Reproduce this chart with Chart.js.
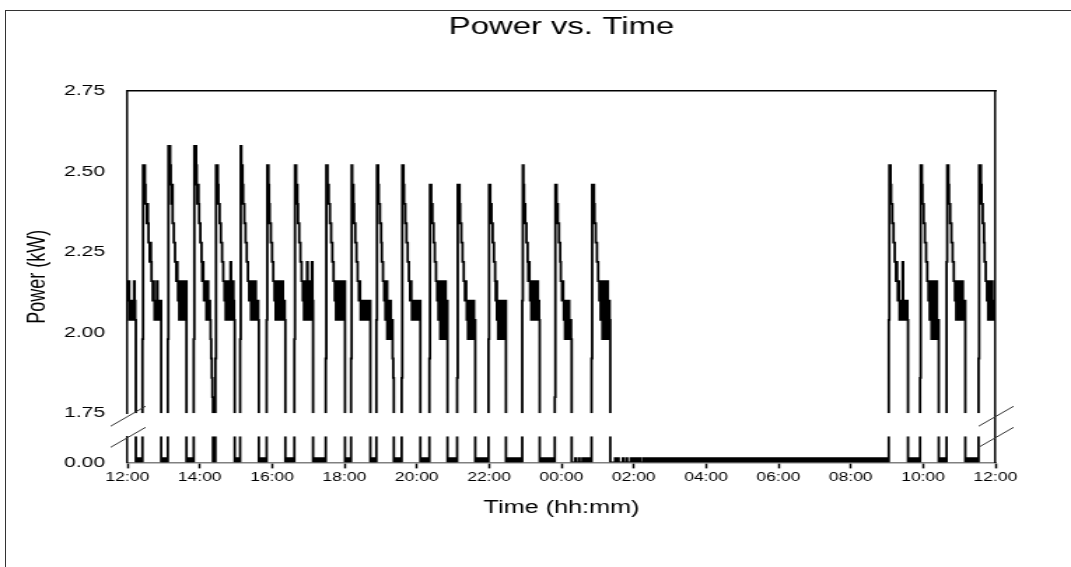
<!DOCTYPE html>
<html>
<head>
<meta charset="utf-8">
<script src="https://cdn.jsdelivr.net/npm/chart.js@4.4.1/dist/chart.umd.min.js"></script>
<style>
  html, body { margin: 0; padding: 0; background: #fff; overflow: hidden; }
  #frame { position: absolute; left: 5px; top: 10px; right: 0; bottom: 0; border-left: 1px solid #333; border-top: 1px solid #333; }
  /* the original figure is a horizontally stretched export */
  #chartPower { position: absolute; left: 0; top: 0; transform: scaleX(1.4); transform-origin: 0 0; }
</style>
</head>
<body>
<div id="frame"></div>
<canvas id="chartPower" width="765" height="567"></canvas>
<script>
'use strict';

// x axis: minutes after 12:00, labelled every two hours
const timeTicks = [0, 120, 240, 360, 480, 600, 720, 840, 960, 1080, 1200, 1320, 1440];
const timeLabels = ['12:00', '14:00', '16:00', '18:00', '20:00', '22:00', '00:00',
    '02:00', '04:00', '06:00', '08:00', '10:00', '12:00'];
const upperTicks = [1.75, 2.00, 2.25, 2.50, 2.75];
const lowerTicks = [0.00, 0.25];

// compressor runs: start minute, then one sample per minute (kW)
const runStart = [0, 25, 67, 110, 146, 187, 231, 277, 329, 371, 413, 455, 501, 547, 599, 655, 709, 770, 1263, 1315, 1359, 1412];
const runKw = [
    [2.16, 2.10, 2.16, 2.04, 2.10, 2.04, 2.10, 2.04, 2.10, 2.04, 2.10, 2.16, 2.10, 2.04],
    [1.98, 2.52, 2.46, 2.52, 2.46, 2.40, 2.40, 2.34, 2.40, 2.34, 2.28, 2.28, 2.22, 2.28, 2.22, 2.16, 2.16, 2.10, 2.16, 2.10, 2.04, 2.10, 2.04, 2.10, 2.16, 2.04, 2.10, 2.04, 2.10, 2.04, 2.10],
    [1.98, 2.58, 2.52, 2.58, 2.52, 2.46, 2.40, 2.46, 2.34, 2.34, 2.28, 2.28, 2.22, 2.22, 2.16, 2.22, 2.16, 2.10, 2.16, 2.04, 2.10, 2.16, 2.04, 2.10, 2.04, 2.10, 2.16, 2.10, 2.04, 2.10, 2.16],
    [1.98, 2.58, 2.52, 2.58, 2.52, 2.46, 2.40, 2.46, 2.40, 2.34, 2.34, 2.28, 2.28, 2.22, 2.16, 2.22, 2.16, 2.10, 2.16, 2.10, 2.16, 2.04, 2.10, 2.16, 2.10, 2.04, 2.10, 2.04, 1.98, 1.92, 1.86, 1.80],
    [1.92, 2.52, 2.46, 2.52, 2.46, 2.40, 2.40, 2.34, 2.34, 2.28, 2.28, 2.22, 2.22, 2.16, 2.16, 2.10, 2.16, 2.04, 2.10, 2.16, 2.04, 2.10, 2.04, 2.16, 2.10, 2.22, 2.04, 2.10, 2.04, 2.16, 2.10, 2.04],
    [1.98, 2.58, 2.52, 2.52, 2.46, 2.40, 2.40, 2.34, 2.34, 2.28, 2.28, 2.22, 2.22, 2.16, 2.16, 2.10, 2.16, 2.10, 2.04, 2.10, 2.16, 2.04, 2.10, 2.04, 2.10, 2.16, 2.04, 2.10, 2.04, 2.10, 2.04],
    [2.04, 2.52, 2.52, 2.46, 2.40, 2.34, 2.34, 2.28, 2.28, 2.22, 2.22, 2.16, 2.16, 2.10, 2.16, 2.04, 2.10, 2.16, 2.04, 2.10, 2.04, 2.16, 2.10, 2.04, 2.10, 2.04, 2.16, 2.10, 2.04, 2.10, 2.04],
    [1.98, 2.52, 2.52, 2.46, 2.46, 2.40, 2.34, 2.34, 2.28, 2.28, 2.22, 2.22, 2.16, 2.16, 2.10, 2.16, 2.04, 2.10, 2.16, 2.04, 2.10, 2.22, 2.04, 2.10, 2.16, 2.04, 2.10, 2.04, 2.16, 2.22, 2.10],
    [1.92, 2.52, 2.52, 2.46, 2.46, 2.40, 2.40, 2.34, 2.34, 2.28, 2.28, 2.22, 2.22, 2.16, 2.16, 2.10, 2.16, 2.04, 2.10, 2.04, 2.16, 2.10, 2.04, 2.10, 2.04, 2.16, 2.04, 2.10, 2.04, 2.10, 2.16, 2.16],
    [1.92, 2.52, 2.46, 2.46, 2.40, 2.34, 2.34, 2.28, 2.28, 2.22, 2.22, 2.16, 2.16, 2.10, 2.16, 2.10, 2.04, 2.10, 2.04, 2.10, 2.04, 2.10, 2.04, 2.10, 2.04, 2.10, 2.04, 2.10, 2.04, 2.10, 2.04, 2.10],
    [2.04, 2.52, 2.52, 2.46, 2.40, 2.40, 2.34, 2.34, 2.28, 2.22, 2.22, 2.16, 2.16, 2.10, 2.16, 2.04, 2.10, 2.16, 1.98, 2.04, 2.10, 2.04, 1.98, 2.10, 2.04, 1.98, 2.04, 1.92, 1.86],
    [1.86, 2.52, 2.52, 2.46, 2.40, 2.40, 2.34, 2.34, 2.28, 2.28, 2.22, 2.22, 2.16, 2.16, 2.10, 2.16, 2.10, 2.04, 2.10, 2.04, 2.10, 2.04, 2.10, 2.04, 2.10, 2.04, 2.10, 2.04, 2.10, 2.04, 2.10],
    [1.92, 2.46, 2.46, 2.40, 2.40, 2.34, 2.34, 2.28, 2.28, 2.22, 2.22, 2.16, 2.16, 2.10, 2.16, 2.04, 2.10, 2.16, 1.98, 2.04, 2.10, 2.16, 2.04, 1.98, 2.10, 2.04, 2.16, 1.98, 2.04, 2.10],
    [1.86, 2.46, 2.46, 2.46, 2.40, 2.34, 2.34, 2.28, 2.28, 2.22, 2.22, 2.16, 2.16, 2.10, 2.16, 2.10, 2.04, 2.10, 1.98, 2.04, 2.10, 2.04, 1.98, 2.10, 2.04, 1.98, 2.04, 2.10, 1.98, 2.04],
    [1.98, 2.46, 2.46, 2.40, 2.40, 2.34, 2.34, 2.28, 2.28, 2.22, 2.22, 2.16, 2.10, 2.16, 2.04, 2.10, 1.98, 2.04, 2.10, 1.98, 2.04, 2.10, 2.04, 1.98, 2.10, 2.04, 1.98, 2.04, 2.10],
    [2.10, 2.52, 2.46, 2.40, 2.40, 2.34, 2.34, 2.28, 2.28, 2.22, 2.16, 2.22, 2.16, 2.10, 2.16, 2.04, 2.10, 2.16, 2.04, 2.10, 2.04, 2.16, 2.10, 2.04, 2.10, 2.16, 2.04, 2.10, 2.04],
    [1.80, 2.46, 2.46, 2.40, 2.40, 2.34, 2.34, 2.28, 2.28, 2.22, 2.16, 2.16, 2.10, 2.16, 2.10, 2.04, 2.10, 1.98, 2.04, 2.10, 1.98, 2.04, 1.98, 2.10, 2.04, 1.98, 2.04, 1.98],
    [1.92, 2.46, 2.46, 2.46, 2.40, 2.34, 2.34, 2.28, 2.28, 2.22, 2.22, 2.16, 2.16, 2.10, 2.16, 2.04, 2.10, 2.16, 1.98, 2.04, 2.10, 2.16, 2.04, 1.98, 2.10, 2.04, 2.16, 1.98, 2.04, 2.10, 2.04],
    [2.04, 2.52, 2.52, 2.46, 2.40, 2.40, 2.34, 2.34, 2.28, 2.28, 2.22, 2.22, 2.16, 2.22, 2.16, 2.10, 2.16, 2.10, 2.04, 2.10, 2.04, 2.10, 2.04, 2.22, 2.10, 2.04, 2.10, 2.04, 2.10, 2.04, 2.10, 2.04],
    [1.86, 2.52, 2.52, 2.46, 2.40, 2.40, 2.34, 2.34, 2.28, 2.28, 2.22, 2.22, 2.16, 2.16, 2.10, 2.16, 2.04, 2.10, 2.16, 1.98, 2.04, 2.10, 2.16, 2.04, 1.98, 2.10, 2.04, 2.16, 2.04, 1.98, 2.04],
    [2.22, 2.52, 2.52, 2.46, 2.40, 2.40, 2.34, 2.34, 2.28, 2.28, 2.22, 2.22, 2.16, 2.16, 2.10, 2.16, 2.04, 2.10, 2.16, 2.04, 2.10, 2.04, 2.16, 2.10, 2.04, 2.10, 2.16, 2.04, 2.10, 2.04, 2.10],
    [1.92, 2.52, 2.52, 2.52, 2.46, 2.40, 2.40, 2.34, 2.34, 2.28, 2.22, 2.22, 2.16, 2.16, 2.10, 2.16, 2.04, 2.10, 2.16, 2.04, 2.10, 2.04, 2.16, 2.10, 2.04, 2.10, 2.04, 2.10]
];

// idle periods with the fan drawing a steady small load
const fanFrom = [14, 56, 98, 142, 178, 218, 262, 308, 361, 403, 442, 486, 531, 577, 628, 684, 853, 1295, 1346, 1390];
const fanTo = [25, 67, 110, 146, 187, 231, 277, 329, 371, 413, 455, 501, 547, 599, 655, 709, 1263, 1315, 1359, 1412];
const fanKw = 0.05;

// short blips during the quiet idle stretches around midnight
const blipMin = [743, 749, 755, 760, 765, 809, 814, 822, 828, 835, 839, 842, 847, 850];
const blipKw = 0.04;

let trace = [];
runStart.forEach((t0, i) => {
    runKw[i].forEach((kw, k) => trace.push({ x: t0 + k, y: kw }));
    trace.push({ x: t0 + runKw[i].length, y: 0 });
});
blipMin.forEach(t => {
    trace.push({ x: t, y: blipKw });
    trace.push({ x: t + 1, y: 0 });
});
trace.sort((a, b) => a.x - b.x);

let fan = [];
for (let i = 0; i < fanFrom.length; i++) {
    fan.push({ x: fanFrom[i], y: fanKw }, { x: fanTo[i], y: fanKw }, { x: fanTo[i], y: null });
}

// each dataset only shows inside its own panel of the broken axis
const panelClip = {
    id: 'panelClip',
    beforeDatasetDraw(chart, args) {
        const yScale = chart.scales[args.meta.yAxisID];
        const area = chart.chartArea;
        chart.ctx.save();
        chart.ctx.beginPath();
        chart.ctx.rect(area.left, yScale.top, area.right - area.left, yScale.bottom - yScale.top);
        chart.ctx.clip();
    },
    afterDatasetDraw(chart) {
        chart.ctx.restore();
    }
};

const breakMarks = {
    id: 'breakMarks',
    afterDraw(chart) {
        const ctx = chart.ctx;
        const area = chart.chartArea;
        const yTop = chart.scales.yTop;
        const yLow = chart.scales.yLow;
        ctx.save();
        ctx.strokeStyle = '#333';
        ctx.lineWidth = 1;
        [area.left, area.right].forEach(x => {
            [yTop.bottom + 3, yLow.top + 1].forEach(y => {
                ctx.beginPath();
                ctx.moveTo(x - 12, y + 10);
                ctx.lineTo(x + 13, y - 10);
                ctx.stroke();
            });
        });
        ctx.restore();
    }
};

Chart.defaults.font.family = '"Liberation Sans", Arial, sans-serif';
Chart.defaults.color = '#000';

const lineStyle = {
    borderColor: '#000',
    borderWidth: 1.8,
    stepped: true,
    pointRadius: 0,
    fill: false,
    borderCapStyle: 'butt',
    borderJoinStyle: 'miter'
};

const noGrid = { display: false, drawTicks: false };
const stackWidth = scale => { scale.width = 57; };

const chartPower = new Chart(document.getElementById('chartPower'), {
    type: 'line',
    data: {
        datasets: [
            Object.assign({ label: 'Power', data: trace.slice(), xAxisID: 'x', yAxisID: 'yTop' }, lineStyle),
            Object.assign({ label: 'Power (low)', data: trace.slice(), xAxisID: 'x', yAxisID: 'yLow' }, lineStyle),
            {
                label: 'Fan', data: fan, xAxisID: 'x', yAxisID: 'yLow',
                borderWidth: 0, pointRadius: 0, fill: 'origin', backgroundColor: '#000', spanGaps: false
            }
        ]
    },
    options: {
        responsive: false,
        animation: false,
        events: [],
        layout: { padding: { left: 12, right: 54, top: 0, bottom: 48 } },
        plugins: {
            legend: { display: false },
            tooltip: { enabled: false },
            title: {
                display: true,
                fullSize: false,
                text: 'Power vs. Time',
                font: { size: 23.5, weight: 'normal' },
                padding: { top: 13, bottom: 50 }
            }
        },
        scales: {
            x: {
                type: 'linear',
                position: 'bottom',
                min: 0,
                max: 1440,
                afterBuildTicks: scale => { scale.ticks = timeTicks.map(v => ({ value: v })); },
                ticks: {
                    autoSkip: false,
                    maxRotation: 0,
                    font: { size: 12.5 },
                    padding: 2,
                    callback: (value, index) => timeLabels[index]
                },
                grid: { display: true, drawOnChartArea: false, drawTicks: true, tickLength: 6, tickColor: '#000', tickWidth: 1.5 },
                border: { display: true, color: '#808080', width: 1.5 },
                title: { display: true, text: 'Time (hh:mm)', font: { size: 18 }, padding: { top: 10, bottom: 0 } }
            },
            xTop: {
                type: 'linear',
                position: 'top',
                ticks: { display: false },
                grid: noGrid,
                border: { display: true, color: '#000', width: 1.5 }
            },
            yTitle: {
                type: 'linear',
                position: 'left',
                weight: 10,
                ticks: { display: false },
                grid: noGrid,
                border: { display: false },
                title: { display: true, text: 'Power (kW)', font: { size: 18 } },
                afterFit: scale => { scale.width = 22; }
            },
            yTop: {
                type: 'linear',
                position: 'left',
                stack: 'power',
                stackWeight: 321,
                weight: 3,
                min: 1.75,
                max: 2.75,
                afterBuildTicks: scale => { scale.ticks = upperTicks.map(v => ({ value: v })); },
                ticks: { font: { size: 15 }, padding: 16, callback: v => v.toFixed(2) },
                grid: noGrid,
                border: { display: true, color: '#000', width: 1.5 },
                afterFit: stackWidth
            },
            yGap: {
                type: 'linear',
                position: 'left',
                stack: 'power',
                stackWeight: 23,
                weight: 2,
                ticks: { display: false },
                grid: noGrid,
                border: { display: false },
                afterFit: stackWidth
            },
            yLow: {
                type: 'linear',
                position: 'left',
                stack: 'power',
                stackWeight: 26,
                weight: 1,
                min: 0,
                max: 0.25,
                afterBuildTicks: scale => { scale.ticks = lowerTicks.map(v => ({ value: v })); },
                ticks: { font: { size: 15 }, padding: 16, callback: v => v.toFixed(2) },
                grid: noGrid,
                border: { display: true, color: '#000', width: 1.5 },
                afterFit: stackWidth
            },
            yRight: {
                type: 'linear',
                position: 'right',
                ticks: { display: false },
                grid: noGrid,
                border: { display: true, color: '#000', width: 1.5 }
            }
        }
    },
    plugins: [panelClip, breakMarks]
});
</script>
</body>
</html>
